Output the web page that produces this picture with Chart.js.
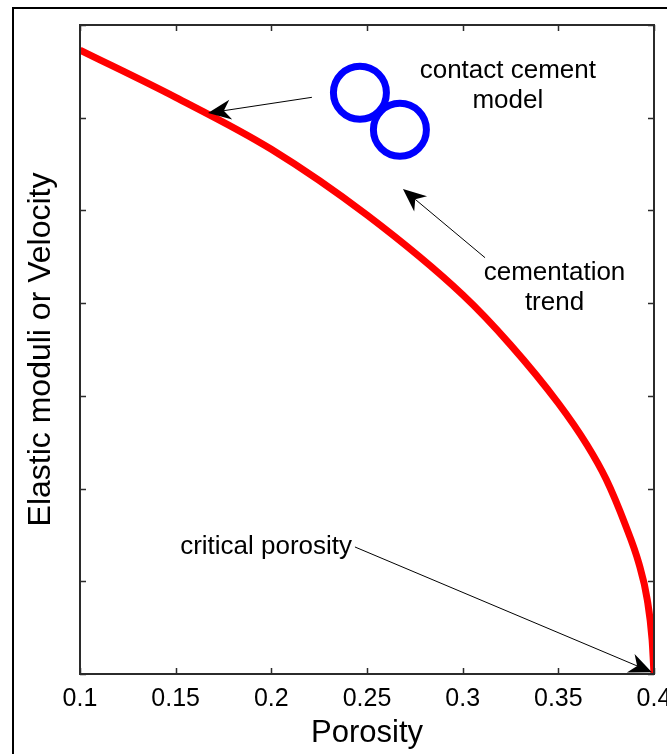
<!DOCTYPE html>
<html>
<head>
<meta charset="utf-8">
<title>Contact cement model</title>
<script src="https://cdn.jsdelivr.net/npm/chart.js@4.4.1/dist/chart.umd.min.js"></script>
<style>
  html, body { margin: 0; padding: 0; background: #fff; }
  #wrap { position: relative; width: 667px; height: 754px; overflow: hidden; }
  #frame { position: absolute; left: 12px; top: 7px; width: 700px; height: 800px;
           border-left: 2px solid #000; border-top: 2px solid #000; }
  #chart { position: absolute; left: 0; top: 0; }
</style>
</head>
<body>
<div id="wrap">
  <div id="frame"></div>
  <canvas id="chart" width="667" height="754"></canvas>
</div>
<script>
// Cementation trend (porosity vs. modulus, arbitrary units)
const porosity = [0.100, 0.150, 0.200, 0.250, 0.300, 0.325, 0.350, 0.365, 0.375, 0.385, 0.392, 0.3965, 0.399, 0.400];
const modulus  = [6.73, 6.22, 5.66, 4.95, 4.09, 3.55, 2.92, 2.47, 2.10, 1.61, 1.20, 0.80, 0.37, 0.00];

// the two cemented grains sketched in the upper part
const grainX = [0.2463, 0.2672];
const grainY = [6.27, 5.87];

const xTickValues = [0.1, 0.15, 0.2, 0.25, 0.3, 0.35, 0.4];
const xTickLabels = ['0.1', '0.15', '0.2', '0.25', '0.3', '0.35', '0.4'];
const yTickValues = [0, 1, 2, 3, 4, 5, 6, 7];

// annotations: text anchors and arrows (data coordinates)
const noteTexts  = [['contact cement', 'model'], ['cementation', 'trend'], ['critical porosity']];
const noteX      = [0.3236, 0.3480, 0.2422];
const noteY      = [6.51, 4.33, 1.37];
const noteAlign  = ['center', 'center', 'right'];
const arrowFrom  = [[0.2212, 6.22], [0.3117, 4.49], [0.2437, 1.37]];
const arrowTo    = [[0.1669, 6.05], [0.2688, 5.23], [0.3989, 0.02]];

const fontFamily = "'Liberation Sans', Arial, sans-serif";

// axes box with inward ticks on all four sides
const boxPlugin = {
    id: 'box',
    afterDatasetsDraw(chart) {
        const { ctx, chartArea: a, scales: { x, y } } = chart;
        const len = 6;
        ctx.save();
        ctx.strokeStyle = '#2b2b2b';
        ctx.lineWidth = 2;
        ctx.strokeRect(a.left, a.top, a.right - a.left, a.bottom - a.top);
        ctx.lineWidth = 1.5;
        ctx.beginPath();
        xTickValues.forEach(v => {
            const px = Math.round(x.getPixelForValue(v)) + 0.5;
            ctx.moveTo(px, a.bottom); ctx.lineTo(px, a.bottom - len);
            ctx.moveTo(px, a.top);    ctx.lineTo(px, a.top + len);
        });
        yTickValues.forEach(v => {
            const py = Math.round(y.getPixelForValue(v)) + 0.5;
            ctx.moveTo(a.left, py);  ctx.lineTo(a.left + len, py);
            ctx.moveTo(a.right, py); ctx.lineTo(a.right - len, py);
        });
        ctx.stroke();
        ctx.restore();
    }
};

function drawArrow(ctx, x0, y0, x1, y1) {
    const ang = Math.atan2(y1 - y0, x1 - x0);
    const headLen = 23, headW = 10, notch = 7;
    ctx.beginPath();
    ctx.moveTo(x0, y0);
    ctx.lineTo(x1 - Math.cos(ang) * (headLen - notch), y1 - Math.sin(ang) * (headLen - notch));
    ctx.stroke();
    const bx = x1 - Math.cos(ang) * headLen, by = y1 - Math.sin(ang) * headLen;
    const nx = x1 - Math.cos(ang) * (headLen - notch), ny = y1 - Math.sin(ang) * (headLen - notch);
    const px = -Math.sin(ang) * headW, py = Math.cos(ang) * headW;
    ctx.beginPath();
    ctx.moveTo(x1, y1);
    ctx.lineTo(bx + px, by + py);
    ctx.lineTo(nx, ny);
    ctx.lineTo(bx - px, by - py);
    ctx.closePath();
    ctx.fill();
}

const notesPlugin = {
    id: 'notes',
    afterDraw(chart) {
        const { ctx, scales: { x, y } } = chart;
        ctx.save();
        ctx.fillStyle = '#000';
        ctx.strokeStyle = '#000';
        ctx.lineWidth = 1;
        arrowFrom.forEach((p, i) => {
            drawArrow(ctx, x.getPixelForValue(p[0]), y.getPixelForValue(p[1]),
                      x.getPixelForValue(arrowTo[i][0]), y.getPixelForValue(arrowTo[i][1]));
        });
        ctx.font = '26px ' + fontFamily;
        ctx.textBaseline = 'middle';
        noteTexts.forEach((lines, i) => {
            ctx.textAlign = noteAlign[i];
            const px = x.getPixelForValue(noteX[i]);
            const py = y.getPixelForValue(noteY[i]);
            lines.forEach((t, k) => ctx.fillText(t, px, py + k * 30));
        });
        ctx.restore();
    }
};

new Chart(document.getElementById('chart'), {
    type: 'scatter',
    data: {
        datasets: [{
            label: 'cementation trend',
            data: porosity.map((p, i) => ({ x: p, y: modulus[i] })),
            showLine: true,
            borderColor: '#ff0000',
            borderWidth: 7,
            pointRadius: 0,
            cubicInterpolationMode: 'monotone',
            borderCapStyle: 'butt',
            borderJoinStyle: 'round'
        }, {
            label: 'grains',
            data: grainX.map((g, i) => ({ x: g, y: grainY[i] })),
            showLine: false,
            pointRadius: 26.5,
            pointBorderWidth: 7,
            pointBorderColor: '#0000ff',
            pointBackgroundColor: 'rgba(0,0,0,0)'
        }]
    },
    options: {
        responsive: false,
        animation: false,
        layout: { autoPadding: false, padding: { top: 25, right: 13, left: 0, bottom: 0 } },
        plugins: { legend: { display: false }, tooltip: { enabled: false } },
        scales: {
            x: {
                type: 'linear',
                min: 0.1,
                max: 0.4,
                afterBuildTicks: s => { s.ticks = xTickValues.map(v => ({ value: v })); },
                afterFit: s => { s.height = 80; s.paddingLeft = 0; s.paddingRight = 0; },
                grid: { display: false, drawTicks: false },
                border: { display: false },
                ticks: {
                    padding: 10,
                    color: '#000',
                    font: { family: fontFamily, size: 25 },
                    maxRotation: 0,
                    autoSkip: false,
                    callback: (v, i) => xTickLabels[i]
                },
                title: {
                    display: true,
                    text: 'Porosity',
                    color: '#000',
                    font: { family: fontFamily, size: 31 },
                    padding: { top: 0, bottom: 2 }
                }
            },
            y: {
                type: 'linear',
                min: 0,
                max: 7,
                afterBuildTicks: s => { s.ticks = yTickValues.map(v => ({ value: v })); },
                afterFit: s => { s.width = 80; },
                grid: { display: false, drawTicks: false },
                border: { display: false },
                ticks: { display: false },
                title: {
                    display: true,
                    text: 'Elastic moduli or Velocity',
                    color: '#000',
                    font: { family: fontFamily, size: 32 },
                    padding: { top: 22, bottom: 0 }
                }
            }
        }
    },
    plugins: [boxPlugin, notesPlugin]
});
</script>
</body>
</html>
